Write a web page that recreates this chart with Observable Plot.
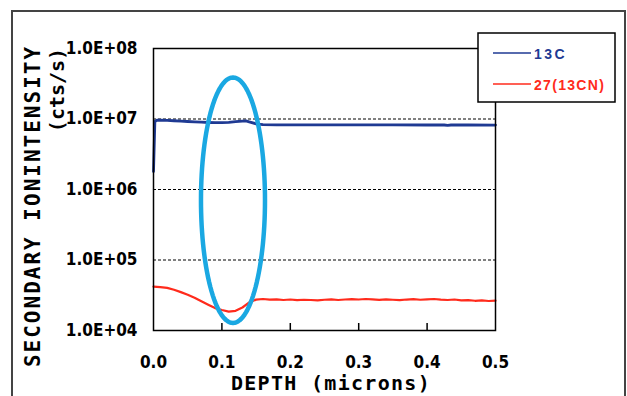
<!DOCTYPE html>
<html>
<head>
<meta charset="utf-8">
<script src="https://cdn.jsdelivr.net/npm/d3@7"></script>
<script src="https://cdn.jsdelivr.net/npm/@observablehq/plot@0.6"></script>
<style>
  html, body { margin: 0; padding: 0; background: #fff; }
  #chart { position: relative; width: 627px; height: 396px; overflow: hidden; }
</style>
</head>
<body>
<div id="chart"></div>
<script>
// ---- data ----
const seriesNames = ["13C", "27(13CN)"];
const seriesColors = ["#1f3a93", "#ff2b1c"];

const depth13C = [0, 0.002, 0.005, 0.01, 0.02, 0.03, 0.04, 0.05, 0.06, 0.07, 0.08, 0.09, 0.10, 0.11, 0.12, 0.13, 0.135, 0.14, 0.15, 0.16, 0.18, 0.20, 0.25, 0.30, 0.35, 0.40, 0.425, 0.43, 0.435, 0.46, 0.50];
const counts13C = [1.8e6, 9.2e6, 9.6e6, 9.65e6, 9.55e6, 9.45e6, 9.35e6, 9.22e6, 9.1e6, 9.0e6, 8.92e6, 8.86e6, 8.86e6, 8.95e6, 9.15e6, 9.35e6, 9.42e6, 9.1e6, 8.55e6, 8.3e6, 8.25e6, 8.24e6, 8.24e6, 8.23e6, 8.23e6, 8.22e6, 8.22e6, 8.12e6, 8.22e6, 8.22e6, 8.2e6];

const depth13CN = [0, 0.01, 0.02, 0.03, 0.04, 0.05, 0.06, 0.07, 0.08, 0.09, 0.10, 0.11, 0.12, 0.13, 0.14, 0.15, 0.16, 0.17, 0.18, 0.19, 0.20, 0.21, 0.22, 0.23, 0.24, 0.25, 0.26, 0.27, 0.28, 0.29, 0.30, 0.31, 0.32, 0.33, 0.34, 0.35, 0.36, 0.37, 0.38, 0.39, 0.40, 0.41, 0.42, 0.43, 0.44, 0.45, 0.46, 0.47, 0.48, 0.49, 0.50];
const counts13CN = [4.2e4, 4.12e4, 4.02e4, 3.78e4, 3.5e4, 3.22e4, 2.92e4, 2.6e4, 2.32e4, 2.08e4, 1.95e4, 1.85e4, 1.9e4, 2.12e4, 2.5e4, 2.74e4, 2.8e4, 2.74e4, 2.77e4, 2.71e4, 2.75e4, 2.69e4, 2.73e4, 2.71e4, 2.67e4, 2.73e4, 2.77e4, 2.71e4, 2.75e4, 2.79e4, 2.75e4, 2.8e4, 2.76e4, 2.72e4, 2.76e4, 2.73e4, 2.7e4, 2.75e4, 2.78e4, 2.73e4, 2.77e4, 2.8e4, 2.74e4, 2.71e4, 2.75e4, 2.68e4, 2.7e4, 2.64e4, 2.67e4, 2.62e4, 2.65e4];

const yTicks = [1e4, 1e5, 1e6, 1e7, 1e8];
const yTickLabels = ["1.0E+04", "1.0E+05", "1.0E+06", "1.0E+07", "1.0E+08"];
const gridValues = [1e5, 1e6, 1e7];
const xTicks = [0, 0.1, 0.2, 0.3, 0.4, 0.5];
const xTickLabels = ["0.0", "0.1", "0.2", "0.3", "0.4", "0.5"];
const xInnerTicks = [0.1, 0.2, 0.3, 0.4];

const xTitle = "DEPTH (microns)";
const yTitle = "SECONDARY IONINTENSITY";
const yTitle2 = "(cts/s)";

// highlight ellipse annotation (center/radii in data units; y in log10 decades)
const ellipseCenterDepth = 0.1162;
const ellipseRadiusDepth = 0.0468;
const ellipseCenterLog = 5.848;
const ellipseRadiusLog = 1.741;

// ---- build tables ----
const data13C = depth13C.map((d, i) => ({depth: d, counts: counts13C[i]}));
const data13CN = depth13CN.map((d, i) => ({depth: d, counts: counts13CN[i]}));
const ellipse = d3.range(0, 121).map(k => {
  const t = (k / 120) * 2 * Math.PI;
  return {
    depth: ellipseCenterDepth + ellipseRadiusDepth * Math.cos(t),
    counts: Math.pow(10, ellipseCenterLog + ellipseRadiusLog * Math.sin(t))
  };
});

const tickFont = '"Liberation Sans Narrow", "DejaVu Sans Condensed", "Liberation Sans", sans-serif';
const titleFont = '"DejaVu Sans Mono", "Liberation Mono", monospace';

const W = 627, H = 396, mTop = 48, mBottom = 66;
const innerTickLen = 7;

const svg = Plot.plot({
  width: W,
  height: H,
  marginLeft: 153,
  marginRight: 132,
  marginTop: mTop,
  marginBottom: mBottom,
  style: {background: "#fff", fontFamily: tickFont, color: "#000", overflow: "visible"},
  x: {domain: [0, 0.5]},
  y: {type: "log", domain: [1e4, 1e8]},
  marks: [
    Plot.ruleY(gridValues, {stroke: "#000", strokeWidth: 1, strokeDasharray: "3,2"}),
    Plot.ruleX(xInnerTicks, {stroke: "#000", strokeWidth: 1.5, insetTop: H - mTop - mBottom - innerTickLen}),
    Plot.line(data13C, {x: "depth", y: "counts", stroke: seriesColors[0], strokeWidth: 2.8}),
    Plot.line(data13CN, {x: "depth", y: "counts", stroke: seriesColors[1], strokeWidth: 2.2}),
    Plot.line(ellipse, {x: "depth", y: "counts", stroke: "#1aa8e2", strokeWidth: 4.5}),
    Plot.frame({stroke: "#000", strokeWidth: 1.5}),
    Plot.axisY({ticks: yTicks, tickSize: 0, tickPadding: 16, label: null,
      tickFormat: d => yTickLabels[yTicks.indexOf(d)],
      fontSize: 17, fontWeight: "bold", fontFamily: tickFont}),
    Plot.axisX({ticks: xTicks, tickSize: 0, tickPadding: 25, label: null,
      tickFormat: d => xTickLabels[xTicks.findIndex(t => Math.abs(t - d) < 1e-9)],
      fontSize: 17, fontWeight: "bold", fontFamily: tickFont})
  ]
});

const s = d3.select(svg);

// outer frame of the figure
s.append("rect").attr("x", 12).attr("y", 11).attr("width", 613).attr("height", 420)
  .attr("fill", "none").attr("stroke", "#444").attr("stroke-width", 2);

// axis titles
s.append("text").attr("transform", "translate(40,206) rotate(-90)")
  .attr("text-anchor", "middle").attr("font-family", titleFont).attr("font-weight", "bold")
  .attr("font-size", 21).attr("letter-spacing", "2px").attr("fill", "#000").text(yTitle);
s.append("text").attr("transform", "translate(64,90) rotate(-90)")
  .attr("text-anchor", "middle").attr("font-family", titleFont).attr("font-weight", "bold")
  .attr("font-size", 20).attr("letter-spacing", "0px").attr("fill", "#000").text(yTitle2);
s.append("text").attr("x", 331).attr("y", 390)
  .attr("text-anchor", "middle").attr("font-family", titleFont).attr("font-weight", "bold")
  .attr("font-size", 20).attr("letter-spacing", "1.3px").attr("fill", "#000").text(xTitle);

// legend
const lg = s.append("g");
lg.append("rect").attr("x", 478).attr("y", 33).attr("width", 137).attr("height", 69)
  .attr("fill", "#fff").attr("stroke", "#000").attr("stroke-width", 1.5);
[53, 84].forEach((ly, i) => {
  lg.append("line").attr("x1", 493).attr("x2", 531).attr("y1", ly).attr("y2", ly)
    .attr("stroke", seriesColors[i]).attr("stroke-width", 1.5);
  lg.append("text").attr("x", 534).attr("y", ly + 5.5).attr("text-anchor", "start")
    .attr("font-family", '"Liberation Sans", Arial, sans-serif').attr("font-weight", "bold")
    .attr("font-size", 14).attr("letter-spacing", i === 0 ? "2.5px" : "1.3px")
    .attr("fill", seriesColors[i]).text(seriesNames[i]);
});

document.getElementById("chart").appendChild(svg);
</script>
</body>
</html>
